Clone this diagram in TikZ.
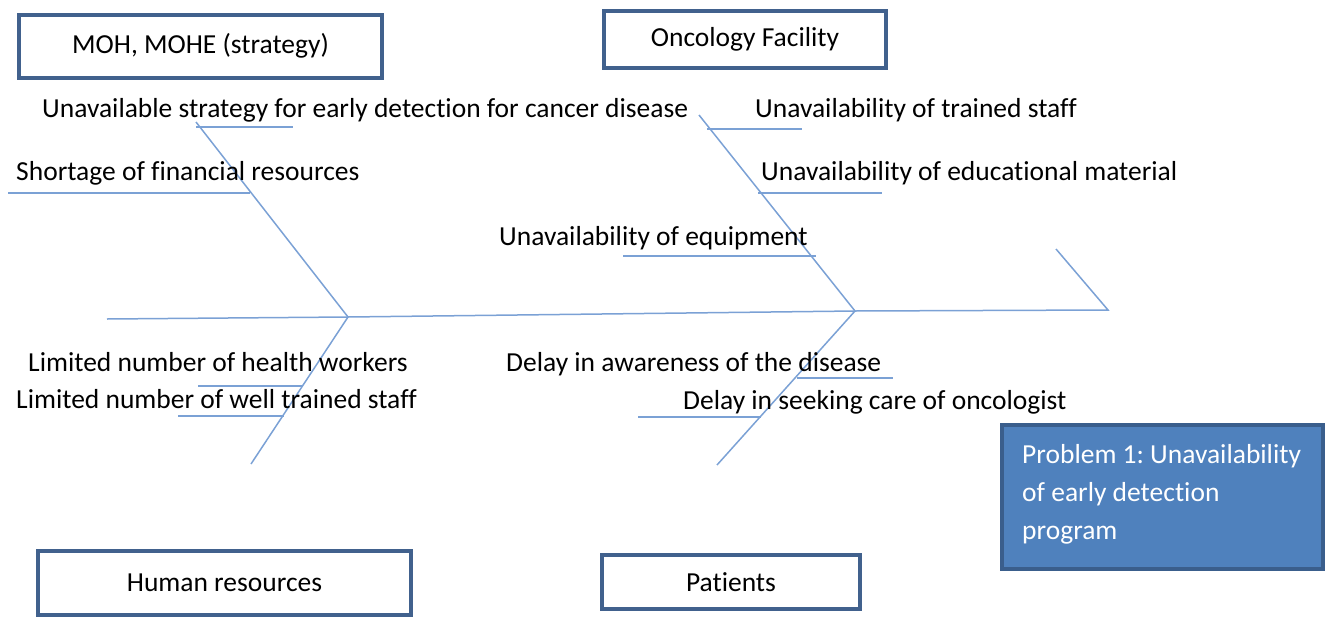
\documentclass[tikz,border=0pt]{standalone}
\usepackage{fontspec}
\setmainfont{Carlito}[Ligatures=NoCommon]
\definecolor{bonecol}{HTML}{7BA1D5}
\definecolor{framecol}{HTML}{41618D}
\definecolor{probfill}{HTML}{4F81BD}
\definecolor{probline}{HTML}{3A5E8C}
\tikzset{
  bone/.style={draw=bonecol, line width=1.5pt},
  catbox/.style={draw=framecol, line width=4pt, fill=white, inner sep=0pt},
  probbox/.style={draw=probline, line width=4pt, fill=probfill, inner sep=0pt},
  cause/.style={anchor=base west, inner sep=0pt},
}
\frenchspacing
\begin{document}
\begin{tikzpicture}[x=1pt, y=-1pt, font=\fontsize{27.5}{38}\selectfont]
	\useasboundingbox (0,0) rectangle (1330,616);
	% spine and head
	\coordinate (tail) at (107,319);
	\coordinate (jl) at (348,317);
	\coordinate (jr) at (855,311);
	\coordinate (tip) at (1108,310);
	\coordinate (hd) at (1056,249);
	\coordinate (ul) at (196,122);
	\coordinate (ll) at (251,464);
	\coordinate (ur) at (699,115);
	\coordinate (lr) at (717,465);
	\draw[bone] (tail) -- (jl) -- (jr) -- (tip) -- (hd);
	\draw[bone] (ul) -- (jl) -- (ll);
	\draw[bone] (ur) -- (jr) -- (lr);
	% ribs under the causes
	\foreach \a/\b/\y [count=\i] in {196/293/127, 8/250/193, 707/802/129, 758/882/193,
		623/816/256, 198/303/386, 178/284/416, 797/893/378, 638/761/417}{
		\coordinate (rib\i w) at (\a,\y);
		\coordinate (rib\i e) at (\b,\y);
		\draw[bone] (rib\i w) -- (rib\i e);
	}
	% causes
	\foreach \x/\y/\t [count=\i] in {
		42/117/Unavailable strategy for early detection for cancer disease,
		16/180/Shortage of financial resources,
		755/117/Unavailability of trained staff,
		761/180/Unavailability of educational material,
		499/245/Unavailability of equipment,
		28/371/Limited number of health workers,
		16/408/Limited number of well trained staff,
		506/371/Delay in awareness of the disease,
		683/409/Delay in seeking care of oncologist}{
		\node[cause] (c\i) at (\x,\y) {\t};
	}
	% categories
	\node[catbox, minimum width=363, minimum height=63] (moh) at (200.5,46) {MOH, MOHE (strategy)};
	\node[catbox, minimum width=282, minimum height=57] (onco) at (745,39.5) {Oncology Facility};
	\node[catbox, minimum width=373, minimum height=64] (human) at (224.5,583) {Human resources};
	\node[catbox, minimum width=258, minimum height=54] (pat) at (731,582) {Patients};
	% problem
	\node[probbox, minimum width=321, minimum height=144] (prob) at (1162.5,497) {};
	\node[anchor=west, inner sep=0pt, text width=300, align=flush left, text=white] (probtxt) at (1022,494)
		{Problem 1: Unavailability\\of early detection\\program};
\end{tikzpicture}
\end{document}
